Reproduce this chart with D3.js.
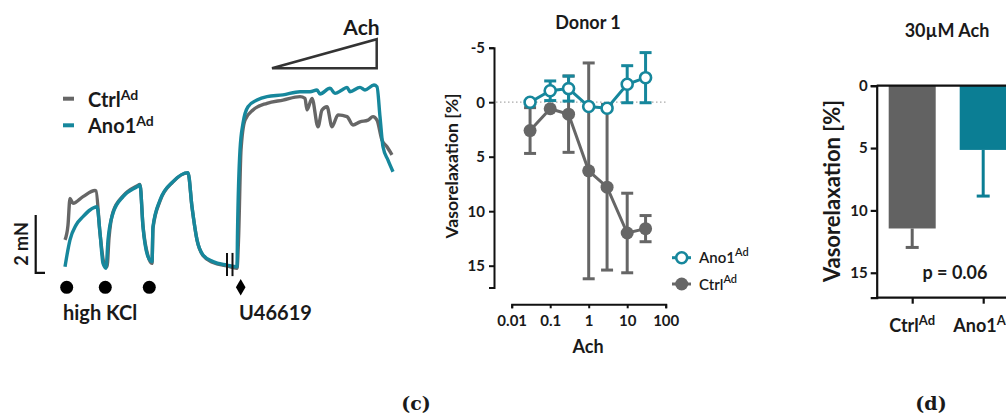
<!DOCTYPE html>
<html>
<head>
<meta charset="utf-8">
<script src="https://cdn.jsdelivr.net/npm/d3@7"></script>
<style>
  body { margin: 0; background: #fff; }
  text { font-family: Lato, "Open Sans", sans-serif; fill: #1a1a1a; }
</style>
</head>
<body>
<script>
var w = 1006;
var h = 417;

// ---- data ----
// (c) force traces: [time (s), force (mN)]
var ctrlTrace = [[0,0.97],[3,1.48],[5,2.4],[8,2.23],[18,2.46],[30,2.67],[31,2.66],[35,1.2],[39,0.16],[42,0.04],
  [44,1.03],[48,1.93],[58,2.48],[72,2.83],[75,2.88],[78,1.45],[83,0.41],[87,0.16],[88,1.38],[95,2.31],[108,2.97],
  [123,3.28],[127,2.1],[132,0.97],[138,0.43],[148,0.19],[162,0.07],[172,-0.01],[173.5,0.97],[176,4.07],[180,5.1],
  [188,5.45],[202,5.68],[218,5.79],[235,5.91],[240,5.85],[242,5.45],[247,5.85],[253,4.87],[257,5.45],[262,5.56],
  [267,4.87],[273,5.28],[282,5.22],[288,4.93],[295,5.04],[303,5.1],[308,5.22],[312,5.1],[317,4.41],[322,4.18],[327,3.9]];
var ano1Trace = [[0,0.04],[2,0.45],[5,0.97],[11,1.48],[18,1.77],[25,2.0],[32,2.11],[35,1.21],[38,0.16],[41,-0.01],
  [43,0.97],[48,1.89],[58,2.46],[72,2.8],[75,2.86],[78,1.42],[83,0.39],[87,0.22],[88,1.42],[95,2.34],[108,2.98],
  [123,3.29],[127,2.11],[132,0.97],[138,0.45],[148,0.22],[162,0.1],[172,0.04],[172.5,1.2],[175,4.07],[178,4.99],
  [183,5.56],[192,5.79],[202,5.91],[218,5.97],[235,6.08],[245,6.08],[252,6.14],[255,6.0],[265,6.2],[270,6.02],
  [277,6.14],[282,6.23],[285,6.08],[295,6.23],[300,6.14],[309,6.31],[312,6.25],[315,5.22],[318,4.18],[323,3.72],[328,3.32]];
var kclTimes = [1.7, 40.3, 84.3];
var u46619Time = 175.7;

// (c) dose response, Donor 1
var achDoses = [0.03, 0.1, 0.3, 1, 3, 10, 30];
var ano1Mean = [0, -1.05, -1.25, 0.4, 0.55, -1.65, -2.25];
var ano1Sem = [0, 0.9, 1.15, 0, 0, 1.7, 2.3];
var ctrlMean = [2.6, 0.6, 1.1, 6.3, 7.8, 12.0, 11.6];
var ctrlSem = [2.1, 0, 3.5, 9.9, 7.6, 3.65, 1.2];
var yTicksDonor = [-5, 0, 5, 10, 15];
var xTicksDonor = [0.01, 0.1, 1, 10, 100];

// (d) 30 µM Ach bars
var barGroups = ["Ctrl", "Ano1"];
var barMeans = [11.45, 5.15];
var barSem = [1.52, 3.7];
var yTicksBar = [0, 5, 10, 15];

var gray = "#666666";
var teal = "#16879c";
var tealBar = "#0b7e94";
var grayBar = "#626262";

var svg = d3.select("body")
    .append("svg")
    .attr("width", w)
    .attr("height", h);

function addSup(sel, base, sup, supSize) {
    sel.append("tspan").text(base);
    sel.append("tspan").attr("dy", -7).attr("font-size", supSize).text(sup);
}

// ================= traces =================
var tx = d3.scaleLinear().domain([0, 330]).range([65, 395]);
var ty = d3.scaleLinear().domain([0, 2]).range([268, 210]);

var line = d3.line()
    .x(d => tx(d[0]))
    .y(d => ty(d[1]))
    .curve(d3.curveMonotoneX);

svg.append("path")
    .datum(ctrlTrace)
    .attr("d", line)
    .attr("fill", "none")
    .attr("stroke", gray)
    .attr("stroke-width", 3.4)
    .attr("stroke-linejoin", "round");

svg.append("path")
    .datum(ano1Trace)
    .attr("d", line)
    .attr("fill", "none")
    .attr("stroke", teal)
    .attr("stroke-width", 3.4)
    .attr("stroke-linejoin", "round");

// break marks
[162, 167.5].forEach(t => {
    svg.append("line")
        .attr("x1", tx(t)).attr("x2", tx(t))
        .attr("y1", ty(0.52)).attr("y2", ty(-0.28))
        .attr("stroke", "#111").attr("stroke-width", 2);
});

// scale bar 2 mN
svg.append("path")
    .attr("d", "M" + 35.7 + "," + ty(1.83) + "V" + ty(-0.17) + "H" + 45)
    .attr("fill", "none").attr("stroke", "#111").attr("stroke-width", 2.2);
svg.append("text")
    .attr("transform", "translate(28," + ty(0.83) + ") rotate(-90)")
    .attr("text-anchor", "middle")
    .attr("font-size", 18).attr("font-weight", 700)
    .text("2 mN");

// legend
var legC = [{name: "Ctrl", color: gray, y: 98.7}, {name: "Ano1", color: teal, y: 125.3}];
legC.forEach(d => {
    svg.append("line")
        .attr("x1", 63).attr("x2", 74).attr("y1", d.y).attr("y2", d.y)
        .attr("stroke", d.color).attr("stroke-width", 4);
    var t = svg.append("text").attr("x", 88).attr("y", d.y + 8)
        .attr("font-size", 20).attr("font-weight", 700);
    addSup(t, d.name, "Ad", 14);
});

// stimulus markers
svg.selectAll(".kcl")
    .data(kclTimes)
    .enter()
    .append("circle")
    .attr("cx", d => tx(d))
    .attr("cy", 287.3)
    .attr("r", 6.5)
    .attr("fill", "#000");

svg.append("path")
    .attr("d", d3.symbol().type(d3.symbolDiamond).size(80))
    .attr("transform", "translate(" + tx(u46619Time) + ",287.3)")
    .attr("fill", "#000");

svg.append("text").attr("x", 63).attr("y", 320)
    .attr("font-size", 20).attr("font-weight", 700).text("high KCl");
svg.append("text").attr("x", 239).attr("y", 320)
    .attr("font-size", 20).attr("font-weight", 700).text("U46619");

// Ach wedge
svg.append("path")
    .attr("d", "M" + tx(207) + "," + ty(6.89) + "L" + tx(311.7) + "," + ty(7.89) + "L" + tx(311.7) + "," + ty(6.89) + "Z")
    .attr("fill", "none").attr("stroke", "#333").attr("stroke-width", 2.5)
    .attr("stroke-linejoin", "miter");
svg.append("text").attr("x", 361.5).attr("y", 35)
    .attr("text-anchor", "middle")
    .attr("font-size", 21).attr("font-weight", 700).text("Ach");

// ================= Donor 1 =================
var dx = d3.scaleLog().domain([0.01, 100]).range([511.7, 665.7]);
var dy = d3.scaleLinear().domain([-5, 17]).range([47.7, 287.5]);

svg.append("text").attr("x", 588).attr("y", 29)
    .attr("text-anchor", "middle")
    .attr("font-size", 18).attr("font-weight", 700).text("Donor 1");

var yAxisD = svg.append("g")
    .attr("transform", "translate(494,0)")
    .call(d3.axisLeft(dy).tickValues(yTicksDonor).tickSizeOuter(0).tickSize(5).tickFormat(d => String(d)));
var xAxisD = svg.append("g")
    .attr("transform", "translate(0,304.3)")
    .call(d3.axisBottom(dx).tickValues(xTicksDonor).tickSizeOuter(0).tickSize(4)
        .tickFormat(d => String(d)));
[yAxisD, xAxisD].forEach(g => {
    g.selectAll("path, line").attr("stroke", "#111").attr("stroke-width", 2);
    g.selectAll("text").attr("font-size", 15)
        .attr("font-weight", 700).attr("fill", "#1a1a1a");
});
yAxisD.selectAll("text").attr("dx", "-1");
xAxisD.selectAll("text").attr("dy", "0.95em");

svg.append("text")
    .attr("transform", "translate(458,166) rotate(-90)")
    .attr("text-anchor", "middle")
    .attr("font-size", 17.5).attr("font-weight", 700).text("Vasorelaxation [%]");
svg.append("text").attr("x", 588).attr("y", 353)
    .attr("text-anchor", "middle")
    .attr("font-size", 18).attr("font-weight", 700).text("Ach");

// dotted zero line
svg.append("line")
    .attr("x1", 496).attr("x2", 665.7)
    .attr("y1", dy(0)).attr("y2", dy(0))
    .attr("stroke", "#aaa").attr("stroke-width", 1.3)
    .attr("stroke-dasharray", "1.5,2.5");

var seriesD = [
    {name: "Ctrl", mean: ctrlMean, sem: ctrlSem, color: gray, filled: true},
    {name: "Ano1", mean: ano1Mean, sem: ano1Sem, color: teal, filled: false}
];

var dline = d3.line().x(d => dx(d.x)).y(d => dy(d.y));

seriesD.forEach(s => {
    var pts = achDoses.map((x, i) => ({x: x, y: s.mean[i], e: s.sem[i]}));
    var g = svg.append("g");
    pts.filter(d => d.e > 0).forEach(d => {
        var cx = dx(d.x);
        g.append("line").attr("x1", cx).attr("x2", cx)
            .attr("y1", dy(d.y - d.e)).attr("y2", dy(d.y + d.e))
            .attr("stroke", s.color).attr("stroke-width", 3);
        [d.y - d.e, d.y + d.e].forEach(v => {
            g.append("line").attr("x1", cx - 6).attr("x2", cx + 6)
                .attr("y1", dy(v)).attr("y2", dy(v))
                .attr("stroke", s.color).attr("stroke-width", 3);
        });
    });
    g.append("path").datum(pts).attr("d", dline)
        .attr("fill", "none").attr("stroke", s.color).attr("stroke-width", 3);
    g.selectAll("circle").data(pts).enter().append("circle")
        .attr("cx", d => dx(d.x)).attr("cy", d => dy(d.y))
        .attr("r", s.filled ? 6.5 : 5.5)
        .attr("fill", s.filled ? s.color : "#fff")
        .attr("stroke", s.color).attr("stroke-width", s.filled ? 0 : 2.6);
});

// legend
var legD = [{name: "Ano1", color: teal, filled: false, y: 257.7}, {name: "Ctrl", color: gray, filled: true, y: 284}];
legD.forEach(d => {
    svg.append("line").attr("x1", 672).attr("x2", 691).attr("y1", d.y).attr("y2", d.y)
        .attr("stroke", d.color).attr("stroke-width", 3);
    svg.append("circle").attr("cx", 681.7).attr("cy", d.y)
        .attr("r", d.filled ? 6.5 : 5.5)
        .attr("fill", d.filled ? d.color : "#fff")
        .attr("stroke", d.color).attr("stroke-width", d.filled ? 0 : 2.6);
    var t = svg.append("text").attr("x", 699).attr("y", d.y + 5.5)
        .attr("font-size", 15).attr("font-weight", 600);
    addSup(t, d.name, "Ad", 11);
});

// ================= 30 µM Ach bars =================
var bx = d3.scalePoint().domain(barGroups).range([876.7, 1018.7]).padding(0.5);
var by = d3.scaleLinear().domain([0, 17]).range([85.7, 297.7]);
var barW = 47;

svg.append("text").attr("x", 947).attr("y", 37)
    .attr("text-anchor", "middle")
    .attr("font-size", 18).attr("font-weight", 700).text("30µM Ach");

svg.selectAll(".bar")
    .data(barGroups)
    .enter()
    .append("rect")
    .attr("x", d => bx(d) - barW / 2)
    .attr("y", by(0))
    .attr("width", barW)
    .attr("height", (d, i) => by(barMeans[i]) - by(0))
    .attr("fill", (d, i) => i === 0 ? grayBar : tealBar);

barGroups.forEach((d, i) => {
    var c = i === 0 ? grayBar : tealBar;
    var cx = bx(d);
    svg.append("line").attr("x1", cx).attr("x2", cx)
        .attr("y1", by(barMeans[i])).attr("y2", by(barMeans[i] + barSem[i]))
        .attr("stroke", c).attr("stroke-width", 3);
    svg.append("line").attr("x1", cx - 6.5).attr("x2", cx + 6.5)
        .attr("y1", by(barMeans[i] + barSem[i])).attr("y2", by(barMeans[i] + barSem[i]))
        .attr("stroke", c).attr("stroke-width", 3);
});

var yAxisB = svg.append("g")
    .attr("transform", "translate(876.7,0)")
    .call(d3.axisLeft(by).tickValues(yTicksBar).tickSizeOuter(0).tickSize(6));
var xAxisB = svg.append("g")
    .attr("transform", "translate(0," + by(17) + ")")
    .call(d3.axisBottom(bx).tickSizeOuter(0).tickSize(6).tickFormat(""));
[yAxisB, xAxisB].forEach(g => {
    g.selectAll("path, line").attr("stroke", "#111").attr("stroke-width", 2.2);
    g.selectAll("text").attr("font-size", 15)
        .attr("font-weight", 700).attr("fill", "#1a1a1a");
});
xAxisB.select(".domain").attr("d", "M876.7,0H1010");
// zero line
svg.append("line").attr("x1", 876.7).attr("x2", 1010)
    .attr("y1", by(0)).attr("y2", by(0))
    .attr("stroke", "#111").attr("stroke-width", 2.2);

barGroups.forEach(d => {
    var t = svg.append("text").attr("x", bx(d)).attr("y", 332)
        .attr("text-anchor", "middle")
        .attr("font-size", 18).attr("font-weight", 700);
    addSup(t, d, "Ad", 13);
});

svg.append("text")
    .attr("transform", "translate(840,191) rotate(-90)")
    .attr("text-anchor", "middle")
    .attr("font-size", 22).attr("font-weight", 700).text("Vasorelaxation [%]");

svg.append("text").attr("x", 955).attr("y", 279)
    .attr("text-anchor", "middle")
    .attr("font-size", 18).attr("font-weight", 700).text("p  = 0.06");

// panel labels
svg.append("text").attr("x", 416).attr("y", 410)
    .attr("text-anchor", "middle")
    .style("font-family", "'DejaVu Serif', serif")
    .attr("font-size", 19).attr("font-weight", 700).text("(c)");
svg.append("text").attr("x", 931).attr("y", 410)
    .attr("text-anchor", "middle")
    .style("font-family", "'DejaVu Serif', serif")
    .attr("font-size", 19).attr("font-weight", 700).text("(d)");
</script>
</body>
</html>
